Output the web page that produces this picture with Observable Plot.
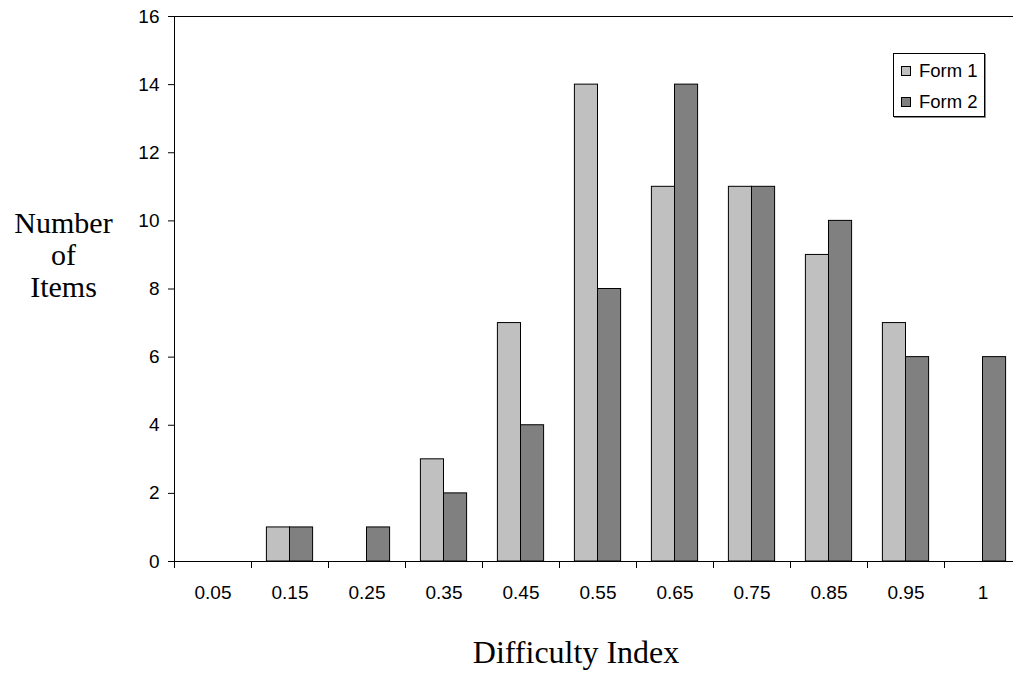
<!DOCTYPE html>
<html>
<head>
<meta charset="utf-8">
<script src="https://cdn.jsdelivr.net/npm/d3@7"></script>
<script src="https://cdn.jsdelivr.net/npm/@observablehq/plot@0.6"></script>
<style>
  html, body { margin: 0; padding: 0; background: #fff; }
  #wrap { position: relative; width: 1013px; height: 675px; }
  #legend {
    position: absolute; left: 893px; top: 53px; width: 90px; height: 62px;
    border: 1px solid #000; box-shadow: 1px 1px 0 #888; background: #fff;
    font-family: "Liberation Sans", Arial, sans-serif; font-size: 18.5px; color: #000;
  }
  .row { position: absolute; left: 7px; display: flex; align-items: center; }
  .sw { width: 8px; height: 8px; border: 1px solid #000; margin-right: 8px; }
</style>
</head>
<body>
<div id="wrap">
  <div id="chart"></div>
  <div id="legend"></div>
</div>
<script>
// ---- data ----
const categories = ["0.05", "0.15", "0.25", "0.35", "0.45", "0.55", "0.65", "0.75", "0.85", "0.95", "1"];
const form1 = [0, 1, 0, 3, 7, 14, 11, 11, 9, 7, 0];
const form2 = [0, 1, 1, 2, 4, 8, 14, 11, 10, 6, 6];
const seriesNames = ["Form 1", "Form 2"];
const seriesColors = ["#c0c0c0", "#808080"];
const yTicks = [0, 2, 4, 6, 8, 10, 12, 14, 16];

const data = categories.map((c, i) => ({cat: c, f1: form1[i], f2: form2[i]}));

const xRange = [173.5, 1020.5];
const bw = (xRange[1] - xRange[0]) / categories.length;
const barW = bw * 0.3;
const serif = "'Liberation Serif', 'Times New Roman', serif";

const chart = Plot.plot({
  width: 1013,
  height: 675,
  marginLeft: 174,
  marginRight: 0,
  marginTop: 16,
  marginBottom: 114,
  style: {fontFamily: "'Liberation Sans', Arial, sans-serif", fontSize: "19px", color: "#000", background: "#fff"},
  x: {type: "band", domain: categories, range: xRange, padding: 0, axis: null},
  y: {domain: [0, 16], range: [561, 16], axis: null},
  marks: [
    Plot.barY(data, {filter: d => d.f1 > 0, x: "cat", y: "f1", fill: seriesColors[0], stroke: "#000", strokeWidth: 1,
      insetLeft: bw / 2 - barW, insetRight: bw / 2}),
    Plot.barY(data, {filter: d => d.f2 > 0, x: "cat", y: "f2", fill: seriesColors[1], stroke: "#000", strokeWidth: 1,
      insetLeft: bw / 2, insetRight: bw / 2 - barW}),
    Plot.ruleY([0], {stroke: "#000"}),
    Plot.ruleY([16], {stroke: "#000"}),
    Plot.ruleX([categories[0]], {dx: -bw / 2, y1: 0, y2: 16, stroke: "#000"}),
    Plot.ruleX(categories, {dx: -bw / 2, y1: 0, y2: 0, insetTop: 0, insetBottom: -7, stroke: "#000"}),
    Plot.axisY({ticks: yTicks, tickSize: 6, tickPadding: 9, label: null, fontSize: 19}),
    Plot.axisX({tickSize: 0, tickPadding: 24, label: null, fontSize: 19}),
    Plot.text(["Number\nof\nItems"], {frameAnchor: "left", dx: -111, dy: -34, textAnchor: "middle",
      lineHeight: 1.07, fontSize: 30, fontFamily: serif}),
    Plot.text(["Difficulty Index"], {frameAnchor: "bottom", dx: -18, dy: 101, textAnchor: "middle",
      fontSize: 32, fontFamily: serif})
  ]
});
document.getElementById("chart").appendChild(chart);

// legend
const legend = document.getElementById("legend");
seriesNames.forEach((name, i) => {
  const row = document.createElement("div");
  row.className = "row";
  row.style.top = (i === 0 ? 6 : 37) + "px";
  const sw = document.createElement("div");
  sw.className = "sw";
  sw.style.background = seriesColors[i];
  const t = document.createElement("span");
  t.textContent = name;
  row.appendChild(sw);
  row.appendChild(t);
  legend.appendChild(row);
});
</script>
</body>
</html>
